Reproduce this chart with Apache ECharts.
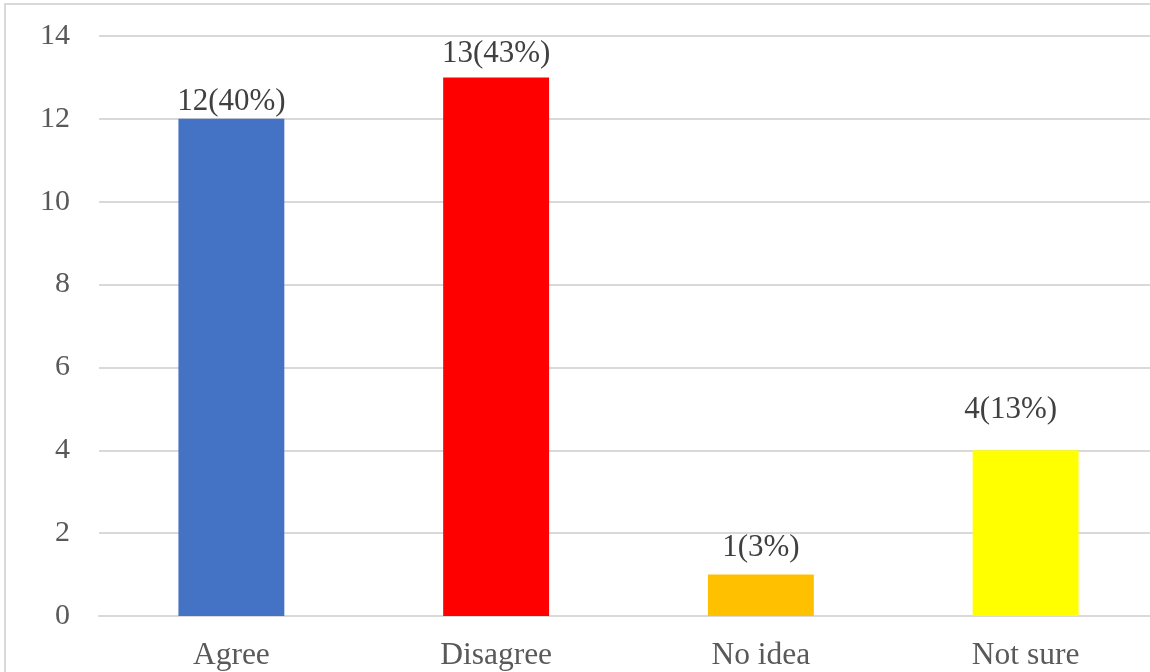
<!DOCTYPE html>
<html>
<head>
<meta charset="utf-8">
<script src="https://cdn.jsdelivr.net/npm/echarts@6/dist/echarts.min.js"></script>
<style>
  html, body { margin: 0; padding: 0; background: #fff; overflow: hidden; }
  #chart { width: 1162px; height: 700px; }
</style>
</head>
<body>
<div id="chart"></div>
<script>
// Survey responses
const categories = ['Agree', 'Disagree', 'No idea', 'Not sure'];
const counts = [12, 13, 1, 4];
const percents = [40, 43, 3, 13];
const barColors = ['#4472C4', '#FF0000', '#FFC000', '#FFFF00'];
const yTicks = [0, 2, 4, 6, 8, 10, 12, 14];

// hand-placed label nudges (gap above bar, horizontal shift)
const labelGap = [1, 8, 11, 25];
const labelShift = [0, 0, 0, -15];

const chart = echarts.init(document.getElementById('chart'), null, { renderer: 'canvas' });

const serif = '"Liberation Serif", "Times New Roman", serif';

chart.setOption({
  animation: false,
  backgroundColor: '#ffffff',
  graphic: [{
    type: 'rect',
    shape: { x: 5, y: 4, width: 1200, height: 800 },
    style: { fill: 'none', stroke: '#d9d9d9', lineWidth: 2 },
    z: -1
  }],
  grid: { left: 99, right: 4, top: 36, bottom: 84, containLabel: false },
  xAxis: {
    type: 'category',
    data: categories,
    axisTick: { show: false },
    axisLine: { show: true, lineStyle: { color: '#d9d9d9', width: 2 } },
    axisLabel: { color: '#595959', fontFamily: serif, fontSize: 31.5, margin: 24 }
  },
  yAxis: {
    type: 'value',
    min: yTicks[0],
    max: yTicks[yTicks.length - 1],
    interval: 2,
    axisLine: { show: false },
    axisTick: { show: false },
    splitLine: { lineStyle: { color: '#d9d9d9', width: 2 } },
    axisLabel: { color: '#595959', fontFamily: serif, fontSize: 30, margin: 29 }
  },
  series: [{
    type: 'bar',
    barWidth: '40%',
    data: counts.map((v, i) => ({
      value: v,
      itemStyle: { color: barColors[i] },
      label: { distance: labelGap[i], offset: [labelShift[i], 0] }
    })),
    label: {
      show: true,
      position: 'top',
      color: '#404040',
      fontFamily: serif,
      fontSize: 31,
      formatter: p => counts[p.dataIndex] + '(' + percents[p.dataIndex] + '%)'
    }
  }]
});
</script>
</body>
</html>
